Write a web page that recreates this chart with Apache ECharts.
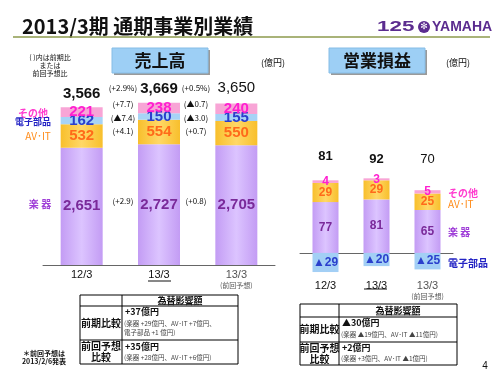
<!DOCTYPE html>
<html>
<head>
<meta charset="utf-8">
<script src="https://cdn.jsdelivr.net/npm/echarts@6/dist/echarts.min.js"></script>
<style>
  html, body { margin: 0; padding: 0; background: #fff; }
  #chart { width: 500px; height: 375px; }
</style>
</head>
<body>
<div id="chart"></div>
<script>
// categories
const categories = ['12/3', '13/3', '13/3(前回予想)'];

// 売上高 (億円)
const salesGakki = [2651, 2727, 2705];
const salesAvit = [532, 554, 550];
const salesDenshi = [162, 150, 155];
const salesOther = [221, 238, 240];
const salesTotal = [3566, 3669, 3650];

// 営業損益 (億円)
const opGakki = [77, 81, 65];
const opAvit = [29, 29, 25];
const opOther = [4, 3, 5];
const opDenshi = [-29, -20, -25];
const opTotal = [81, 92, 70];

// 増減 (前期比 / 前回予想比)
const diffTotal = ['(+2.9%)', '(+0.5%)'];
const diffOther = ['(+7.7)', '(▲0.7)'];
const diffDenshi = ['(▲7.4)', '(▲3.0)'];
const diffAvit = ['(+4.1)', '(+0.7)'];
const diffGakki = ['(+2.9)', '(+0.8)'];

const NUM = '"Liberation Sans Narrow", "Liberation Sans", Arial, sans-serif';
const JP = '"Noto Sans CJK JP", "Noto Sans", sans-serif';

const chart = echarts.init(document.getElementById('chart'), null, { renderer: 'canvas' });

function grad(edge, mid) {
  return new echarts.graphic.LinearGradient(0, 0, 1, 0, [
    { offset: 0, color: edge },
    { offset: 0.5, color: mid },
    { offset: 1, color: edge }
  ]);
}

const C = {
  gakki: grad('#c39cf4', '#dcc4ff'),
  avit: grad('#f8bf2c', '#ffd867'),
  denshi: '#a7d3f6',
  other: '#f8a5d6'
};

function seg(name, data, idx, stack, color, labelColor, fs, fmt) {
  return {
    name: name,
    type: 'bar',
    xAxisIndex: idx,
    yAxisIndex: idx,
    stack: stack,
    data: data,
    barWidth: idx === 0 ? 42 : 26,
    barGap: '-100%',
    itemStyle: { color: color },
    label: {
      show: true,
      position: 'inside',
      color: labelColor,
      fontFamily: NUM,
      fontWeight: 'bold',
      fontSize: fs,
      formatter: fmt || (p => p.value.toLocaleString('en-US'))
    },
    silent: true
  };
}

// transparent helper bars carrying the total labels
function totals(sums, labels, idx, fs, dists) {
  return {
    type: 'bar',
    xAxisIndex: idx,
    yAxisIndex: idx,
    stack: 'tot' + idx,
    barWidth: idx === 0 ? 42 : 26,
    barGap: '-100%',
    z: 1,
    itemStyle: { color: 'rgba(0,0,0,0)' },
    data: sums.map((v, i) => ({
      value: v,
      label: { fontWeight: i === 2 ? 'normal' : 'bold', distance: dists[i] }
    })),
    label: {
      show: true,
      position: 'top',
      color: '#111',
      fontFamily: NUM,
      fontSize: fs,
      formatter: p => labels[p.dataIndex].toLocaleString('en-US')
    },
    silent: true
  };
}

const leftSums = salesGakki.map((v, i) => v + salesAvit[i] + salesDenshi[i] + salesOther[i]);
const rightSums = opGakki.map((v, i) => v + opAvit[i] + opOther[i]);

function axisLabelFmt(value, i) {
  if (i === 2) return '{g|13/3}\n{s|(前回予想)}';
  return '{n|' + value + '}';
}
const axisRich = {
  n: { fontSize: 11, color: '#111', fontFamily: NUM, lineHeight: 12 },
  g: { fontSize: 11, color: '#555', fontFamily: NUM, lineHeight: 12 },
  s: { fontSize: 7, color: '#555', fontFamily: JP, lineHeight: 9 }
};

// text helpers for the slide decorations
function t(x, y, text, o) {
  o = o || {};
  return {
    type: 'text', x: x, y: y, silent: true, z: 10,
    scaleX: o.scaleX || 1,
    style: {
      text: text,
      fill: o.fill || '#111',
      font: (o.weight || 'normal') + ' ' + (o.size || 9) + 'px ' + (o.family || JP),
      textAlign: o.align || 'center',
      textVerticalAlign: 'middle'
    }
  };
}
function ln(x1, y1, x2, y2, color, w) {
  return { type: 'line', silent: true, z: 10, shape: { x1: x1, y1: y1, x2: x2, y2: y2 },
    style: { stroke: color || '#000', lineWidth: w || 1 } };
}

const g = [];
// title
g.push(t(22, 26, '2013/3期 通期事業別業績', { size: 20, weight: 'bold', align: 'left' }));
g.push(ln(13, 37, 490, 37, '#8c9a4c', 1.5));
// logo
g.push(t(377, 27, '125', { size: 14, weight: '900', align: 'left', fill: '#5b2c8f', family: '"Liberation Sans"', scaleX: 1.6 }));
g.push({ type: 'circle', silent: true, shape: { cx: 424, cy: 27, r: 6 }, style: { fill: '#5b2c8f' } });
g.push(t(424, 27, '✻', { size: 9, fill: '#fff', family: '"DejaVu Sans"' }));
g.push(t(432, 27, 'YAMAHA', { size: 14, weight: 'bold', align: 'left', fill: '#5b2c8f', family: NUM }));

// header boxes
[[112, '売上高'], [329, '営業損益']].forEach(b => {
  g.push({ type: 'rect', silent: true, shape: { x: b[0] + 2, y: 50, width: 96, height: 25 }, style: { fill: '#9a9a9a' } });
  g.push({ type: 'rect', silent: true, shape: { x: b[0], y: 48, width: 96, height: 25 }, style: { fill: '#9dcff5', stroke: '#86bde6' } });
  g.push(t(b[0] + 48, 61, b[1], { size: 17, weight: 'bold' }));
});
g.push(t(273, 63, '(億円)', { size: 9 }));
g.push(t(458, 63, '(億円)', { size: 9 }));

// note
g.push(t(50, 57, '( )内は前期比', { size: 7 }));
g.push(t(50, 65, 'または', { size: 7 }));
g.push(t(50, 73, '前回予想比', { size: 7 }));

// left legend labels
g.push(t(33, 113, 'その他', { size: 10, weight: 'bold', fill: '#ff3ccf' }));
g.push(t(33, 121.5, '電子部品', { size: 9, weight: 'bold', fill: '#2323c4' }));
g.push(t(38, 136, 'AV･IT', { size: 10, fill: '#ff8c1a' }));
g.push(t(40, 204, '楽 器', { size: 10, weight: 'bold', fill: '#a040d8' }));
// right legend labels
g.push(t(448, 193, 'その他', { size: 10, weight: 'bold', fill: '#ff3ccf', align: 'left' }));
g.push(t(448, 204, 'AV･IT', { size: 10, fill: '#ff8c1a', align: 'left' }));
g.push(t(448, 232, '楽 器', { size: 10, weight: 'bold', fill: '#a040d8', align: 'left' }));
g.push(t(448, 263, '電子部品', { size: 10, weight: 'bold', fill: '#2323c4', align: 'left' }));

// change annotations
const dx = [123, 196];
for (let i = 0; i < 2; i++) {
  g.push(t(dx[i], 88, diffTotal[i], { size: 8 }));
  g.push(t(dx[i], 104, diffOther[i], { size: 8 }));
  g.push(t(dx[i], 118, diffDenshi[i], { size: 8 }));
  g.push(t(dx[i], 131, diffAvit[i], { size: 8 }));
  g.push(t(dx[i], 201, diffGakki[i], { size: 8 }));
}

// underline under current period
g.push(ln(148, 281, 171, 281, '#111', 1));
g.push(ln(364, 289, 387, 289, '#111', 1));

// left table
function box(x, y, w, h) {
  return { type: 'rect', silent: true, z: 10, shape: { x: x, y: y, width: w, height: h }, style: { fill: 'none', stroke: '#000', lineWidth: 1 } };
}
g.push(box(80, 295, 158, 69));
g.push(ln(122, 295, 122, 364));
g.push(ln(80, 306, 238, 306));
g.push(ln(80, 340, 238, 340));
g.push(t(180, 300.5, '為替影響額', { size: 9, weight: 'bold' }));
g.push(ln(158, 304.5, 202, 304.5, '#222', 0.8));
g.push(t(101, 323, '前期比較', { size: 10, weight: 'bold' }));
g.push(t(125, 312, '+37億円', { size: 9, weight: 'bold', align: 'left' }));
g.push(t(124, 324, '(楽器 +29億円、AV･IT +7億円、', { size: 6.5, fill: '#444', align: 'left' }));
g.push(t(124, 333, '電子部品 +1 億円)', { size: 6.5, fill: '#444', align: 'left' }));
g.push(t(101, 346, '前回予想', { size: 10, weight: 'bold' }));
g.push(t(101, 357, '比較', { size: 10, weight: 'bold' }));
g.push(t(125, 347, '+35億円', { size: 9, weight: 'bold', align: 'left' }));
g.push(t(124, 358, '(楽器 +28億円、AV･IT +6億円)', { size: 6.5, fill: '#444', align: 'left' }));

// right table
g.push(box(300, 304, 157, 61));
g.push(ln(339, 304, 339, 365));
g.push(ln(300, 317, 457, 317));
g.push(ln(300, 342, 457, 342));
g.push(t(398, 310.5, '為替影響額', { size: 9, weight: 'bold' }));
g.push(ln(376, 315, 420, 315, '#222', 0.8));
g.push(t(319.5, 329, '前期比較', { size: 10, weight: 'bold' }));
g.push(t(342, 323, '▲30億円', { size: 9, weight: 'bold', align: 'left' }));
g.push(t(341, 335, '(楽器 ▲19億円、AV･IT ▲11億円)', { size: 6.5, fill: '#444', align: 'left' }));
g.push(t(319.5, 348, '前回予想', { size: 10, weight: 'bold' }));
g.push(t(319.5, 359, '比較', { size: 10, weight: 'bold' }));
g.push(t(342, 348, '+2億円', { size: 9, weight: 'bold', align: 'left' }));
g.push(t(341, 359, '(楽器 +3億円、AV･IT ▲1億円)', { size: 6.5, fill: '#444', align: 'left' }));

// footnote, page number
g.push(t(44, 353, '＊前回予想は', { size: 7, weight: 'bold' }));
g.push(t(44, 361, '2013/2/6発表', { size: 7, weight: 'bold' }));
g.push(t(485, 366, '4', { size: 10, family: NUM }));

const option = {
  animation: false,
  backgroundColor: '#fff',
  grid: [
    { left: 43, top: 88, width: 232, height: 177 },
    { left: 300, top: 177, width: 153, height: 99 }
  ],
  xAxis: [
    {
      type: 'category', gridIndex: 0, data: categories,
      axisLine: { lineStyle: { color: '#666' } },
      axisTick: { inside: true, length: 3, lineStyle: { color: '#666' } },
      axisLabel: { interval: 0, hideOverlap: false, margin: 4, formatter: axisLabelFmt, rich: axisRich }
    },
    {
      type: 'category', gridIndex: 1, data: categories,
      axisLine: { onZero: true, lineStyle: { color: '#666' } },
      axisTick: { inside: true, length: 3, lineStyle: { color: '#666' } },
      axisLabel: { interval: 0, hideOverlap: false, margin: 4, formatter: axisLabelFmt, rich: axisRich }
    }
  ],
  yAxis: [
    { type: 'value', gridIndex: 0, min: 0, max: 4000, show: false },
    { type: 'value', gridIndex: 1, min: -35, max: 115, show: false }
  ],
  series: [
    seg('楽器', salesGakki, 0, 'L', C.gakki, '#7a2a9a', 15),
    seg('AV・IT', salesAvit, 0, 'L', C.avit, '#ff6a1a', 15),
    seg('電子部品', salesDenshi, 0, 'L', C.denshi, '#2a3fcc', 15),
    seg('その他', salesOther, 0, 'L', C.other, '#ff1fd0', 15),
    totals(leftSums, salesTotal, 0, 15, [6, 6, 8]),

    seg('楽器', opGakki, 1, 'R', C.gakki, '#7a2a9a', 12),
    seg('AV・IT', opAvit, 1, 'R', C.avit, '#ff6a1a', 12),
    seg('その他', opOther, 1, 'R', C.other, '#ff1fd0', 12),
    seg('電子部品', opDenshi, 1, 'R', '#a3cff5', '#2a3fcc', 12, p => '▲' + Math.abs(p.value)),
    totals(rightSums, opTotal, 1, 13, [17, 12, 24])
  ],
  graphic: g
};

chart.setOption(option);
</script>
</body>
</html>
